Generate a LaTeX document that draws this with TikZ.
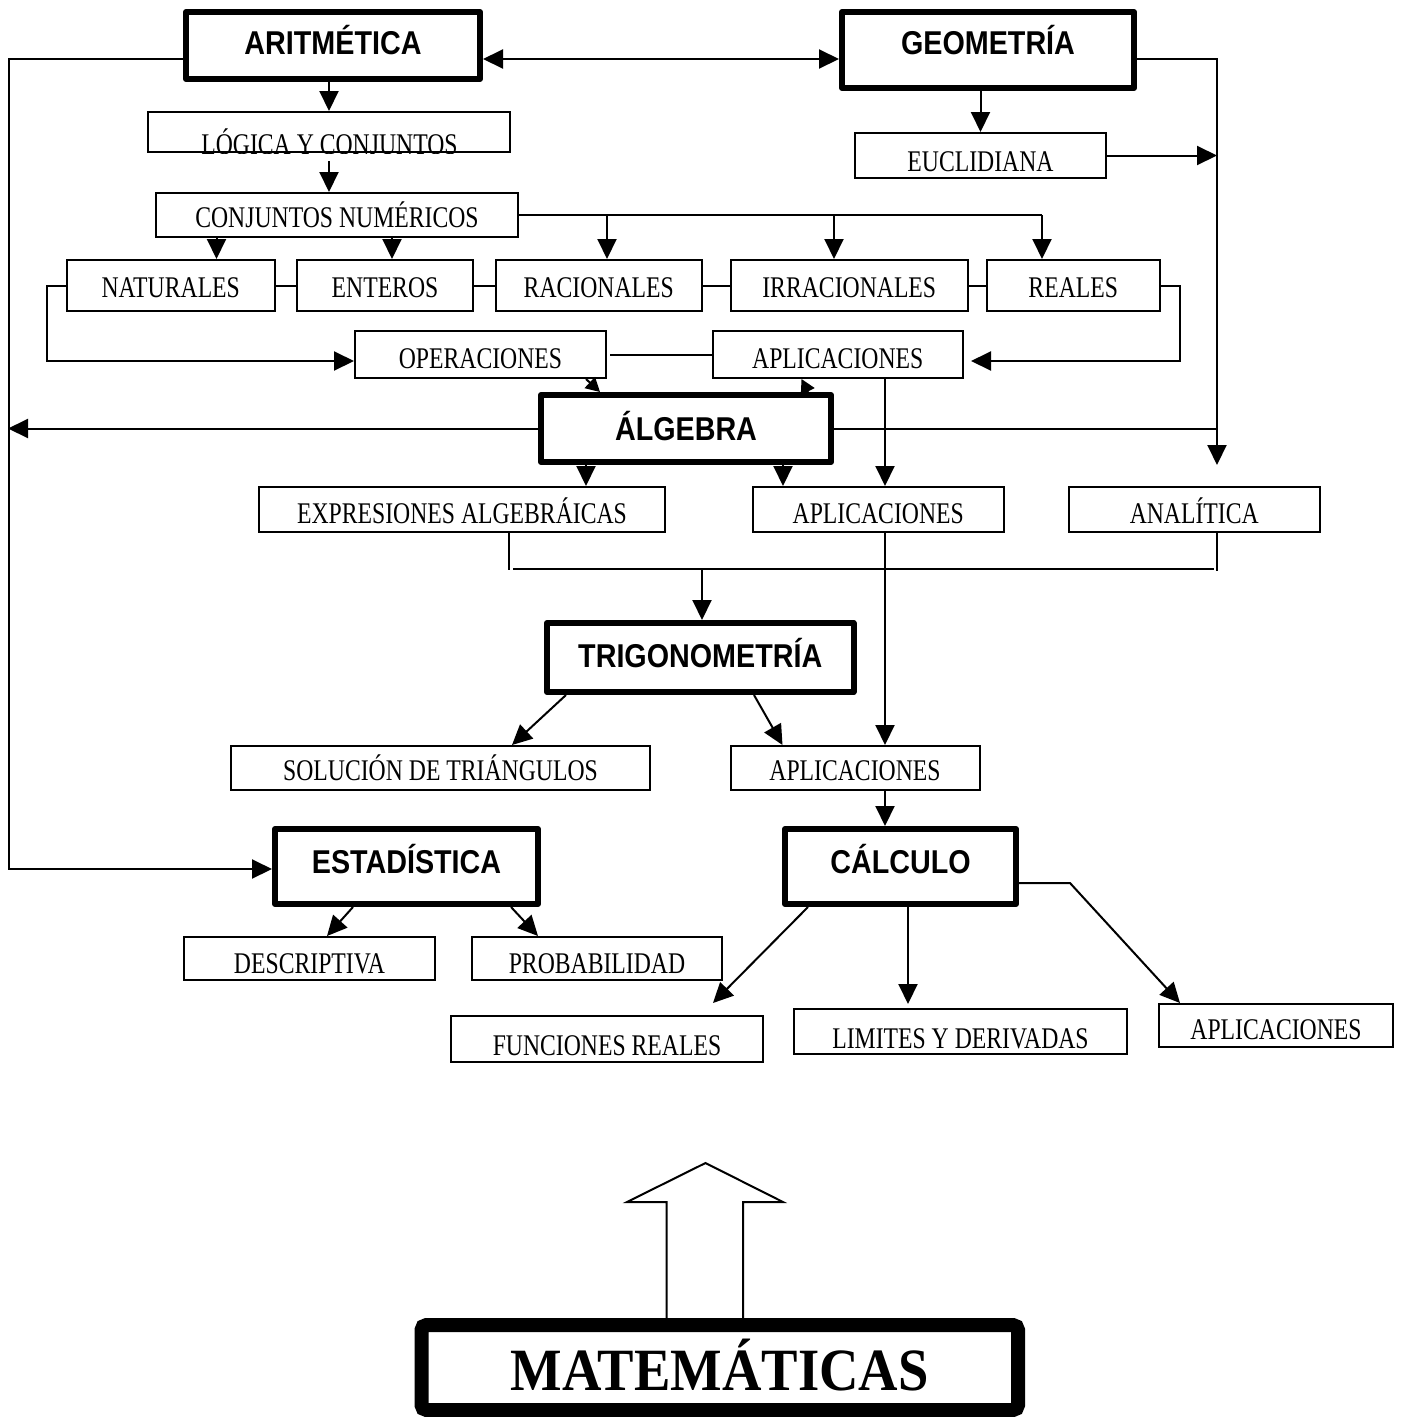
\documentclass[tikz,border=0pt]{standalone}
\usepackage{fontspec}
\usetikzlibrary{arrows.meta,calc}
\newfontfamily\lblfont{Liberation Serif}[FakeStretch=0.79]
\newfontfamily\ttlfont{Liberation Sans}[FakeStretch=0.87]
\newfontfamily\matfont{Liberation Serif}[FakeStretch=0.91]

\tikzset{
  conn/.style={line width=2pt},
  arr/.style={conn, -{Triangle[length=20pt,width=19pt]}},
  darr/.style={conn, {Triangle[length=20pt,width=19pt]}-{Triangle[length=20pt,width=19pt]}},
  sarr/.style={conn, -{Triangle[length=14pt,width=15pt]}},
  lblsize/.style={font=\lblfont\fontsize{30pt}{34pt}\selectfont},
  topic/.style={draw, line width=2pt, inner sep=0pt, text depth=0pt, lblsize},
  area/.style={draw, line width=6pt, line join=round, inner sep=0pt, text depth=0pt,
    font=\ttlfont\bfseries\fontsize{33pt}{36pt}\selectfont},
}

\begin{document}
\begin{tikzpicture}[x=1pt,y=-1pt]
\useasboundingbox (0,0) rectangle (1405,1417);
\fill[white] (0,0) rectangle (1405,1417);

% main areas
\node[area, minimum width=294pt, minimum height=67pt, text height=18.6pt] (arit) at (333,45.5) {ARITMÉTICA};
\node[area, minimum width=292pt, minimum height=76pt, text height=9.6pt] (geom) at (988,50) {GEOMETRÍA};
\node[area, minimum width=290pt, minimum height=67pt, text height=23.6pt] (alg) at (686,428.5) {ÁLGEBRA};
\node[area, minimum width=306.5pt, minimum height=69pt, text height=20.6pt] (trig) at (700.25,657.5) {TRIGONOMETRÍA};
\node[area, minimum width=263pt, minimum height=75pt, text height=14.6pt] (est) at (406.5,866.5) {ESTADÍSTICA};
\node[area, minimum width=231pt, minimum height=75pt, text height=14.6pt] (calc) at (900.5,866.5) {CÁLCULO};

% topics
\node[topic, minimum width=362pt, minimum height=40pt] (log) at (329,132) {};
\begin{scope}
  \clip (log.south west) rectangle (log.north east);
  \node[lblsize, anchor=base, inner sep=0pt] (logt) at (329.5,154.5) {LÓGICA Y CONJUNTOS};
\end{scope}
\node[topic, minimum width=362pt, minimum height=44pt, text height=24.5pt] (cn) at (337,215) {CONJUNTOS NUMÉRICOS};
\node[topic, minimum width=207.5pt, minimum height=51pt, text height=24.9pt] (nat) at (170.75,285.5) {NATURALES};
\node[topic, minimum width=176pt, minimum height=51pt, text height=24.9pt] (ent) at (385,285.5) {ENTEROS};
\node[topic, minimum width=206.5pt, minimum height=51pt, text height=24.9pt] (rac) at (598.75,285.5) {RACIONALES};
\node[topic, minimum width=236.5pt, minimum height=51pt, text height=24.9pt] (irr) at (849.25,285.5) {IRRACIONALES};
\node[topic, minimum width=172.5pt, minimum height=51pt, text height=24.9pt] (rea) at (1073.25,285.5) {REALES};
\node[topic, minimum width=251pt, minimum height=47pt, text height=28.3pt] (ope) at (480.5,354.5) {OPERACIONES};
\node[topic, minimum width=250.5pt, minimum height=47pt, text height=28.3pt] (apl1) at (837.75,354.5) {APLICACIONES};
\node[topic, minimum width=251pt, minimum height=45pt, text height=32.9pt] (euc) at (980.5,155.5) {EUCLIDIANA};
\node[topic, minimum width=406pt, minimum height=45pt, text height=27.3pt] (expr) at (462,509.5) {EXPRESIONES ALGEBRÁICAS};
\node[topic, minimum width=250.5pt, minimum height=45pt, text height=27.3pt] (apl2) at (878.25,509.5) {APLICACIONES};
\node[topic, minimum width=250.5pt, minimum height=45pt, text height=27.3pt] (ana) at (1194.25,509.5) {ANALÍTICA};
\node[topic, minimum width=419pt, minimum height=44pt, text height=24.5pt] (sol) at (440.5,768) {SOLUCIÓN DE TRIÁNGULOS};
\node[topic, minimum width=249pt, minimum height=44pt, text height=24.5pt] (apl3) at (855,768) {APLICACIONES};
\node[topic, minimum width=251pt, minimum height=43pt, text height=29.3pt] (desc) at (309.5,958.5) {DESCRIPTIVA};
\node[topic, minimum width=250pt, minimum height=43pt, text height=29.3pt] (prob) at (597,958.5) {PROBABILIDAD};
\node[topic, minimum width=312pt, minimum height=46pt, text height=33.9pt] (fun) at (607,1039) {FUNCIONES REALES};
\node[topic, minimum width=333pt, minimum height=45pt, text height=33.3pt] (lim) at (960.5,1031.5) {LIMITES Y DERIVADAS};
\node[topic, minimum width=234pt, minimum height=43pt, text height=27.5pt] (apl4) at (1276,1025.5) {APLICACIONES};

% base block with the hollow arrow rising from it
\coordinate (sL) at (666.5,0);
\coordinate (sR) at (743,0);
\coordinate (hL) at (627,1202);
\coordinate (hR) at (783,1202);
\coordinate (tip) at (705.5,1163);
\draw[line width=2pt, line join=miter] (sL |- 0,1330) -- (sL |- hL) -- (hL) -- (tip) -- (hR) -- (sR |- hR) -- (sR |- 0,1330);
\node[draw, line width=14pt, rounded corners=5pt, inner sep=0pt, fill=white,
      minimum width=596.5pt, minimum height=85pt, text height=46.7pt, text depth=0pt,
      font=\matfont\bfseries\fontsize{60pt}{64pt}\selectfont] (mat) at (719.75,1367.5) {MATEMÁTICAS};

% routing points
\coordinate (Lt) at (9,59);
\coordinate (Lb) at (9,869);
\coordinate (Rt) at (1217,59);
\coordinate (Rb) at (1217,465);
\coordinate (Nb) at (47,361);
\coordinate (Eb) at (1180,361);
\coordinate (c1) at (216.5,0);
\coordinate (c2) at (392,0);
\coordinate (c3) at (607,0);
\coordinate (c4) at (834,0);
\coordinate (c5) at (1042,0);
\coordinate (v1) at (885,0);
\coordinate (a1) at (586,0);
\coordinate (a2) at (783,0);
\coordinate (j1) at (509,570);
\coordinate (j2) at (513,569);
\coordinate (j3) at (1214,569);
\coordinate (j4) at (1217,571);
\coordinate (j5) at (702,569);
\coordinate (k1) at (908,0);
\coordinate (K) at (1070,883);

% arithmetic branch
\draw[darr] (arit.east |- Lt) -- (geom.west |- Lt);
\draw[arr] (arit.west |- Lt) -- (Lt) -- (Lb) -- (est.west |- Lb);
\draw[arr] (arit.south -| log.north) -- (log.north);
\draw[arr] ($(log.south)+(0,8)$) -- (log.south |- cn.north);
\draw[arr] (cn.south -| c1) -- (nat.north -| c1);
\draw[arr] (cn.south -| c2) -- (ent.north -| c2);
\draw[conn] (cn.east) -- (cn.east -| c5);
\draw[arr] (cn.east -| c3) -- (rac.north -| c3);
\draw[arr] (cn.east -| c4) -- (irr.north -| c4);
\draw[arr] (cn.east -| c5) -- (rea.north -| c5);
\draw[conn] (nat.east) -- (ent.west);
\draw[conn] (ent.east) -- (rac.west);
\draw[conn] (rac.east) -- (irr.west);
\draw[conn] (irr.east) -- (rea.west);
\draw[arr] (nat.west) -- (nat.west -| Nb) -- (Nb) -- (ope.west |- Nb);
\draw[arr, shorten >=7pt] (rea.east) -- (rea.east -| Eb) -- (Eb) -- (apl1.east |- Eb);
\draw[conn] ($(ope.east)+(3,0)$) -- (apl1.west);
\draw[sarr] ($(ope.south east)+(-21,0)$) -- ($(alg.north west)+(62,0)$);
\draw[sarr] ($(alg.north east)+(-26,0)$) -- ($(apl1.south west)+(90,0)$);

% geometry branch
\draw[arr] (geom.south -| euc.north) -- (euc.north);
\draw[arr] (euc.east) -- (euc.east -| Rt);
\draw[arr] (geom.east |- Rt) -- (Rt) -- (Rb);

% algebra branch
\draw[arr, shorten >=-1pt] (alg.west) -- (alg.west -| Lt);
\draw[conn] (alg.east) -- (alg.east -| Rt);
\draw[arr] (alg.south -| a1) -- (expr.north -| a1);
\draw[arr] (alg.south -| a2) -- (apl2.north -| a2);
\draw[arr] (apl1.south -| v1) -- (apl2.north -| v1);
\draw[arr] (apl2.south -| v1) -- (apl3.north -| v1);
\draw[arr] (apl3.south -| v1) -- (calc.north -| v1);

% towards trigonometry
\draw[conn] (expr.south -| j1) -- (j1);
\draw[conn] (j2) -- (j3);
\draw[conn] (ana.south -| j4) -- (j4);
\draw[arr] (j5) -- (trig.north -| j5);
\draw[arr] ($(trig.south west)+(22,0)$) -- ($(sol.north west)+(282,0)$);
\draw[arr] ($(trig.south west)+(210,0)$) -- ($(apl3.north west)+(53,0)$);

% statistics
\draw[arr] ($(est.south west)+(81,0)$) -- ($(desc.north west)+(144,0)$);
\draw[arr] ($(est.south west)+(239,0)$) -- ($(prob.north west)+(67,0)$);

% calculus
\draw[arr] ($(calc.south west)+(26,0)$) -- ($(fun.north west)+(263,-12)$);
\draw[arr] (calc.south -| k1) -- ($(lim.north -| k1)+(0,-4)$);
\draw[arr] (calc.east |- K) -- (K) -- ($(apl4.north west)+(22,0)$);
\end{tikzpicture}
\end{document}
